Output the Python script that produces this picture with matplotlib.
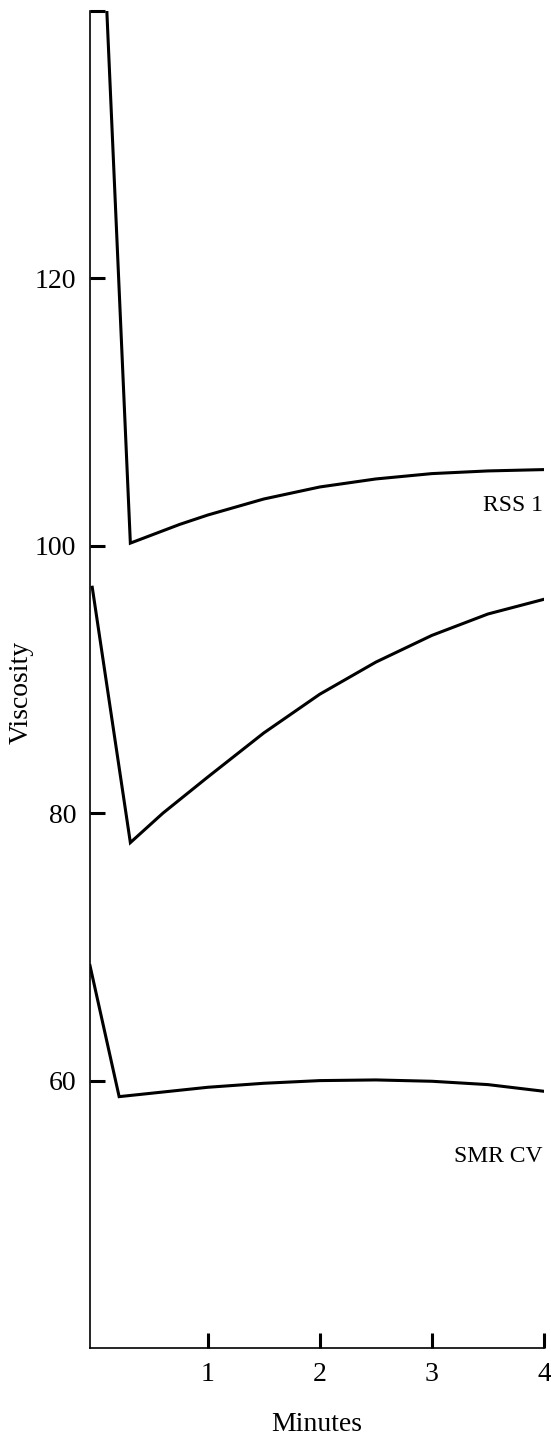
import matplotlib
matplotlib.use('Agg')
import matplotlib.pyplot as plt

plt.rcParams['font.family'] = ['Liberation Serif', 'DejaVu Serif']

# curve readings (minutes, viscosity)
rss_t = [0.0, 0.31, 0.75, 1.0, 1.5, 2.0, 2.5, 3.0, 3.5, 4.0]
rss_v = [159.0, 100.2, 101.6, 102.3, 103.5, 104.4, 105.0, 105.4, 105.6, 105.7]

mid_t = [-0.03, 0.31, 0.6, 1.0, 1.5, 2.0, 2.5, 3.0, 3.5, 4.0]
mid_v = [96.9, 77.8, 80.0, 82.7, 86.0, 88.9, 91.3, 93.3, 94.9, 96.0]

smr_t = [-0.05, 0.21, 1.0, 1.5, 2.0, 2.5, 3.0, 3.5, 4.0]
smr_v = [68.6, 58.8, 59.5, 59.8, 60.0, 60.05, 59.95, 59.7, 59.2]

x_ticks = [1, 2, 3, 4]
y_ticks = [60, 80, 100, 120, 140]
y_tick_labels = ['60', '80', '100', '120', '']

fig = plt.figure(figsize=(5.51, 14.35), dpi=100)
ax = fig.add_axes([90 / 551, 87 / 1435, 454 / 551, 1337 / 1435])

lw = 2.2
for t, v in [(rss_t, rss_v), (mid_t, mid_v), (smr_t, smr_v)]:
    ax.plot(t, v, color='black', linewidth=lw, solid_joinstyle='miter')

ax.set_xlim(-0.05, 4.0)
ax.set_ylim(40, 140)

ax.spines['top'].set_visible(False)
ax.spines['right'].set_visible(False)
for s in ['left', 'bottom']:
    ax.spines[s].set_linewidth(1.2)

ax.set_xticks(x_ticks)
ax.set_xticklabels([str(x) for x in x_ticks])
ax.set_yticks(y_ticks)
ax.set_yticklabels(y_tick_labels)
ax.tick_params(direction='in', length=11, width=2.2, labelsize=20, pad=10)

ax.set_xlabel('Minutes', fontsize=20, labelpad=18)
ax.set_ylabel('Viscosity', fontsize=20)
ax.yaxis.set_label_coords(-0.125, 0.49)

ax.text(3.99, 103.0, 'RSS 1', fontsize=17, ha='right', va='center')
ax.text(3.99, 54.3, 'SMR CV', fontsize=17, ha='right', va='center')

fig.savefig('out.png', dpi=100)
